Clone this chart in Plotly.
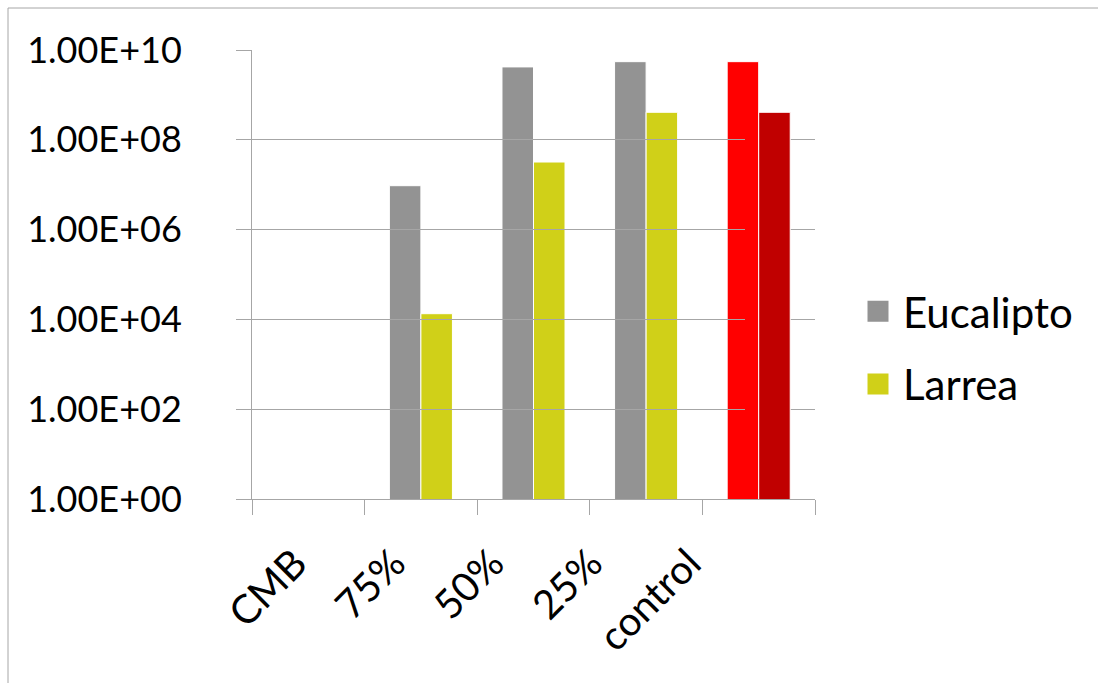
import plotly.graph_objects as go

# Categories and series values (log-scale counts)
categories = ["CMB", "75%", "50%", "25%", "control"]
eucalipto = [None, 9.5e6, 4.2e9, 5.5e9, 5.5e9]
larrea = [None, 1.34e4, 3.2e7, 4.1e8, 4.1e8]

# Tick positions on the log axis and their labels
y_ticks = [1e0, 1e2, 1e4, 1e6, 1e8, 1e10]
y_labels = [f"{v:.2E}" for v in y_ticks]

EUC_COLOR = "#939393"
LAR_COLOR = "#d0d018"
CTRL_EUC = "#ff0000"
CTRL_LAR = "#c00000"
GRID = "#a6a6a6"
FONT = "Lato"

euc_colors = [EUC_COLOR] * (len(categories) - 1) + [CTRL_EUC]
lar_colors = [LAR_COLOR] * (len(categories) - 1) + [CTRL_LAR]

W, H = 1098, 683
L, R, T, B = 252, 283, 50, 184
pw = W - L - R
ph = H - T - B

fig = go.Figure()
fig.add_trace(go.Bar(
    x=categories, y=eucalipto, name="Eucalipto",
    marker=dict(color=euc_colors, line=dict(color="white", width=1)),
    showlegend=False,
))
fig.add_trace(go.Bar(
    x=categories, y=larrea, name="Larrea",
    marker=dict(color=lar_colors, line=dict(color="white", width=1)),
    showlegend=False,
))
# Empty trace that carries the rotated category labels on a tighter axis
fig.add_trace(go.Scatter(
    x=categories, y=[None] * len(categories), xaxis="x2", mode="markers",
    showlegend=False, hoverinfo="skip",
))

# Legend entries with larger square swatches
for name, color, grp in [("Eucalipto", EUC_COLOR, "a"), ("Larrea", LAR_COLOR, "b")]:
    fig.add_trace(go.Scatter(
        x=[None], y=[None], mode="markers", name=name, legendgroup=grp,
        marker=dict(symbol="square", size=16, color=color,
                    line=dict(color=color, width=5)),
    ))

# Outer chart-area frame
fig.add_shape(
    type="rect", xref="paper", yref="paper",
    x0=(8 - L) / pw, x1=(W + 20 - L) / pw,
    y0=-(H + 20 - T - ph) / ph, y1=1 + (T - 8) / ph,
    line=dict(color=GRID, width=1), fillcolor="rgba(0,0,0,0)", layer="below",
)

fig.update_layout(
    width=W, height=H,
    margin=dict(l=L, r=R, t=T, b=B, autoexpand=False),
    paper_bgcolor="white", plot_bgcolor="rgba(0,0,0,0)",
    barmode="group", bargap=0.44, bargroupgap=0,
    font=dict(family=FONT, size=38, color="black"),
    legend=dict(
        x=(853 - L) / pw, xanchor="left",
        y=(H - B - 348) / ph, yanchor="middle",
        font=dict(family=FONT, size=42, color="black"),
        tracegroupgap=15, traceorder="grouped",
        itemsizing="trace", itemwidth=40, bgcolor="rgba(0,0,0,0)",
    ),
    xaxis=dict(
        type="category", tickson="boundaries", ticks="outside", ticklen=15,
        tickcolor=GRID, tickwidth=1, showline=True, linecolor=GRID, linewidth=1,
        showticklabels=False, showgrid=False,
    ),
    xaxis2=dict(
        type="category", anchor="y", domain=[0, 492.5 / pw],
        categoryorder="array", categoryarray=categories, range=[-0.5, 4.5],
        showline=False, ticks="", showgrid=False, zeroline=False,
        tickangle=-45, ticklabelshift=-6, ticklabelstandoff=32,
        tickfont=dict(family=FONT, size=40, color="black"),
    ),
    yaxis=dict(
        type="log", range=[0, 10], tickvals=y_ticks, ticktext=y_labels,
        ticks="outside", ticklen=15, tickcolor=GRID, tickwidth=1,
        showline=True, linecolor=GRID, linewidth=1,
        showgrid=True, gridcolor=GRID, gridwidth=1, zeroline=False,
        tickfont=dict(family=FONT, size=36, color="black"),
        ticklabelstandoff=47,
    ),
)

fig.write_html("out.html")
